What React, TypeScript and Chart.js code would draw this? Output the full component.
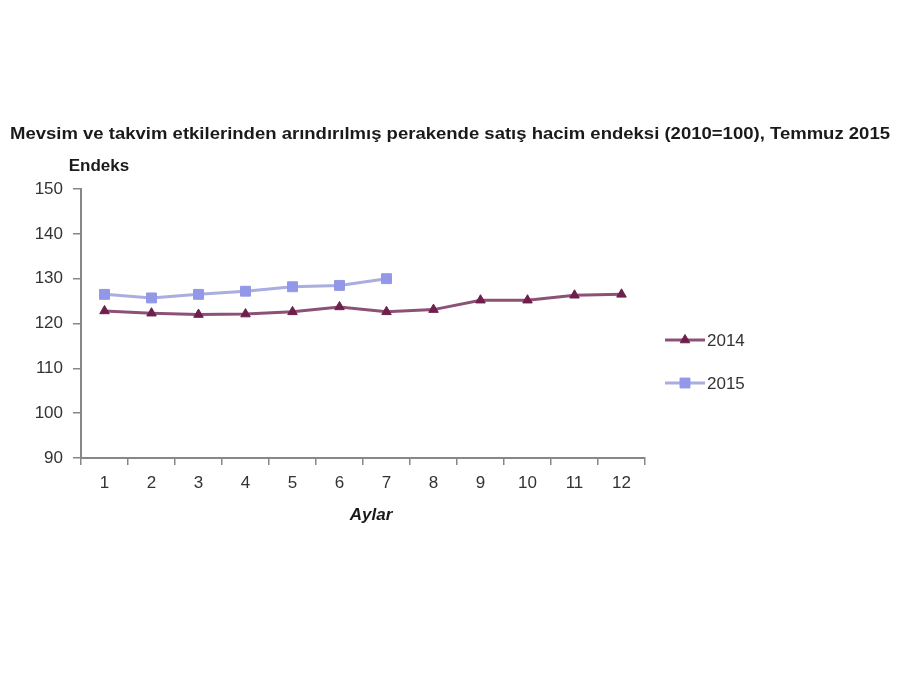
import { useEffect, useRef } from "react";
import { Chart, registerables, type ChartConfiguration, type Plugin } from "chart.js";

Chart.register(...registerables);

const months = ["1", "2", "3", "4", "5", "6", "7", "8", "9", "10", "11", "12"];
const values2014 = [122.8, 122.3, 122.0, 122.1, 122.6, 123.7, 122.6, 123.1, 125.2, 125.2, 126.3, 126.5];
const values2015 = [126.5, 125.7, 126.5, 127.2, 128.2, 128.5, 130.0];
const yTicks = [90, 100, 110, 120, 130, 140, 150];

const TITLE = "Mevsim ve takvim etkilerinden arındırılmış perakende satış hacim endeksi (2010=100), Temmuz 2015";
const FONT = "'Liberation Sans', Arial, sans-serif";
const AXIS = "#878787";
const TEXT = "#333333";

const App = () => {
    const chartRef = useRef<HTMLCanvasElement>(null);
    const chartInstanceRef = useRef<Chart | null>(null);

    useEffect(() => {
        if (!chartRef.current) return;
        if (chartInstanceRef.current) chartInstanceRef.current.destroy();

        // title, axis captions and the legend, drawn on top
        const textPlugin: Plugin<"line"> = {
            id: "textPlugin",
            afterDraw: (chart) => {
                const { ctx } = chart;
                ctx.save();
                ctx.fillStyle = "#1a1a1a";
                ctx.textBaseline = "middle";

                // title stretched to the reference width
                ctx.font = `bold 17px ${FONT}`;
                const w = ctx.measureText(TITLE).width;
                ctx.save();
                ctx.translate(450, 134);
                ctx.scale(880 / w, 1);
                ctx.textAlign = "center";
                ctx.fillText(TITLE, 0, 0);
                ctx.restore();

                ctx.textAlign = "center";
                ctx.font = `bold 17px ${FONT}`;
                ctx.fillText("Endeks", 99, 166);
                ctx.font = `italic bold 17px ${FONT}`;
                ctx.fillText("Aylar", 371, 515);

                // legend: line with marker, then label
                const rows = [340, 383];
                chart.data.datasets.forEach((ds, i) => {
                    const y = rows[i];
                    ctx.strokeStyle = ds.borderColor as string;
                    ctx.lineWidth = 3;
                    ctx.beginPath();
                    ctx.moveTo(665, y);
                    ctx.lineTo(705, y);
                    ctx.stroke();
                    const meta = chart.getDatasetMeta(i);
                    const pt = meta.data[0] as any;
                    ctx.save();
                    ctx.translate(685 - pt.x, y - pt.y);
                    pt.draw(ctx);
                    ctx.restore();
                    ctx.fillStyle = TEXT;
                    ctx.textAlign = "left";
                    ctx.font = `17px ${FONT}`;
                    ctx.fillText(ds.label as string, 707, y + 1);
                });
                ctx.restore();
            },
        };

        const config: ChartConfiguration<"line"> = {
            type: "line",
            data: {
                labels: months,
                datasets: [
                    {
                        label: "2014",
                        data: values2014,
                        borderColor: "#8c5275",
                        borderWidth: 3,
                        pointStyle: "triangle",
                        pointRadius: 5.5,
                        pointBackgroundColor: "#6e1f4c",
                        pointBorderColor: "#6e1f4c",
                        pointBorderWidth: 1,
                        tension: 0,
                    },
                    {
                        label: "2015",
                        data: values2015,
                        borderColor: "#a9addf",
                        borderWidth: 3,
                        pointStyle: "rect",
                        pointRadius: 7,
                        pointBackgroundColor: "#9297e8",
                        pointBorderColor: "#9297e8",
                        pointBorderWidth: 1,
                        tension: 0,
                    },
                ],
            },
            options: {
                responsive: false,
                animation: false,
                layout: {
                    padding: { top: 189, right: 255, bottom: 0, left: 0 },
                },
                plugins: {
                    legend: { display: false },
                    title: { display: false },
                    tooltip: { enabled: false },
                },
                scales: {
                    x: {
                        type: "category",
                        offset: true,
                        afterFit: (scale) => {
                            scale.height = 217;
                        },
                        grid: {
                            offset: true,
                            drawOnChartArea: false,
                            drawTicks: true,
                            tickLength: 7,
                            color: AXIS,
                            lineWidth: 1.5,
                        },
                        border: { display: true, color: AXIS, width: 2 },
                        ticks: {
                            color: TEXT,
                            padding: 8,
                            font: { family: FONT, size: 17 },
                            maxRotation: 0,
                        },
                    },
                    y: {
                        min: 90,
                        max: 150,
                        afterFit: (scale) => {
                            scale.width = 81;
                        },
                        afterBuildTicks: (scale) => {
                            scale.ticks = yTicks.map((v) => ({ value: v }));
                        },
                        grid: {
                            drawOnChartArea: false,
                            drawTicks: true,
                            tickLength: 8,
                            color: AXIS,
                            lineWidth: 1.5,
                        },
                        border: { display: true, color: AXIS, width: 2 },
                        ticks: {
                            color: TEXT,
                            padding: 10,
                            font: { family: FONT, size: 17 },
                        },
                    },
                },
            },
            plugins: [textPlugin],
        };

        chartInstanceRef.current = new Chart(chartRef.current, config);

        return () => {
            chartInstanceRef.current?.destroy();
        };
    }, []);

    return (
        <div
            style={{
                position: "absolute",
                left: 0,
                top: 0,
                width: "900px",
                height: "675px",
                background: "#ffffff",
            }}
        >
            <canvas ref={chartRef} width={900} height={675} style={{ width: "900px", height: "675px" }} />
        </div>
    );
};

export default App;
